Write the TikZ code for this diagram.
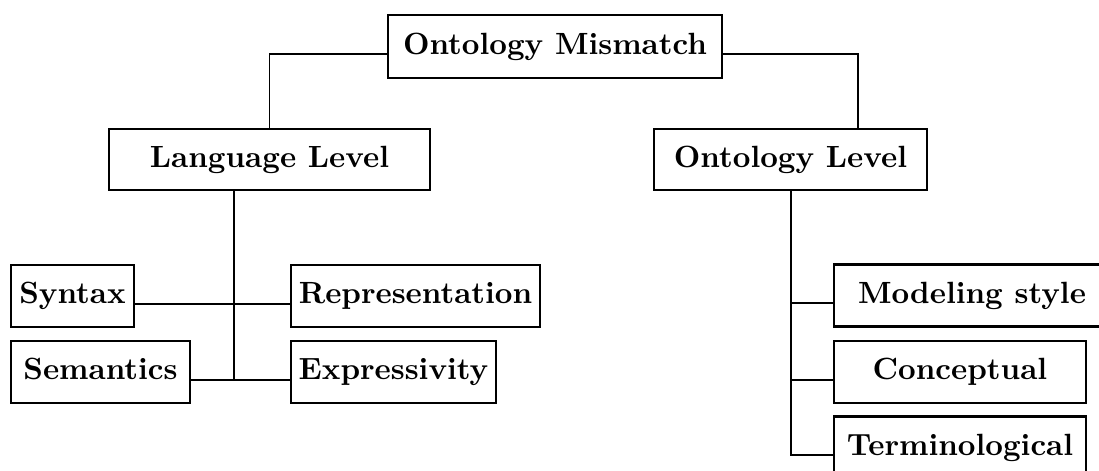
\documentclass[tikz,border=0pt]{standalone}
\newcommand\pxu{0.3257pt}
\begin{document}
\begin{tikzpicture}[x=\pxu,y=-\pxu,
  box/.style={draw, line width=0.75pt, inner sep=0pt, font=\bfseries,
    text height=6.94pt, text depth=1.94pt, minimum height=62*\pxu},
  w/.style={minimum width=#1*\pxu},
  conn/.style={line width=0.6pt}]
\useasboundingbox (0,0) rectangle (1099,471);
\clip (0,0) rectangle (1099,471);
\node[box,w=334,minimum height=63*\pxu] (OM) at (555,46.5) {Ontology Mismatch};
\node[box,w=321,minimum height=61*\pxu] (LL) at (269.5,159.5) {Language Level};
\node[box,w=273,minimum height=61*\pxu] (OL) at (790.5,159.5) {Ontology Level};
\node[box,w=123] (Syn) at (72.5,296) {Syntax};
\node[box,w=179] (Sem) at (100.5,372) {Semantics};
\node[box,w=249] (Rep) at (415.5,296) {Representation};
\node[box,w=205] (Exp) at (393.5,372) {Expressivity};
\node[box,w=276] (MS) at (972,295.5) {Modeling style};
\node[box,w=252] (Con) at (960,372) {Conceptual};
\node[box,w=252] (Ter) at (960,447.5) {Terminological};
\coordinate (lj) at (234,0);
\coordinate (rj) at (791,0);
\coordinate (oj) at (858,0);
\draw[conn] (OM.base west) -| (LL.north);
\draw[conn] (OM.base east) -| (OL.north -| oj);
\draw[conn] (Syn.base east) -- (Rep.base west);
\draw[conn] (Sem.base east) -- (Exp.base west);
\draw[conn] (LL.south -| lj) -- (lj |- Sem.base);
\draw[conn] (OL.south -| rj) |- (Ter.base west);
\draw[conn] (rj |- MS.base west) -- (MS.base west);
\draw[conn] (rj |- Con.base west) -- (Con.base west);
\end{tikzpicture}
\end{document}
